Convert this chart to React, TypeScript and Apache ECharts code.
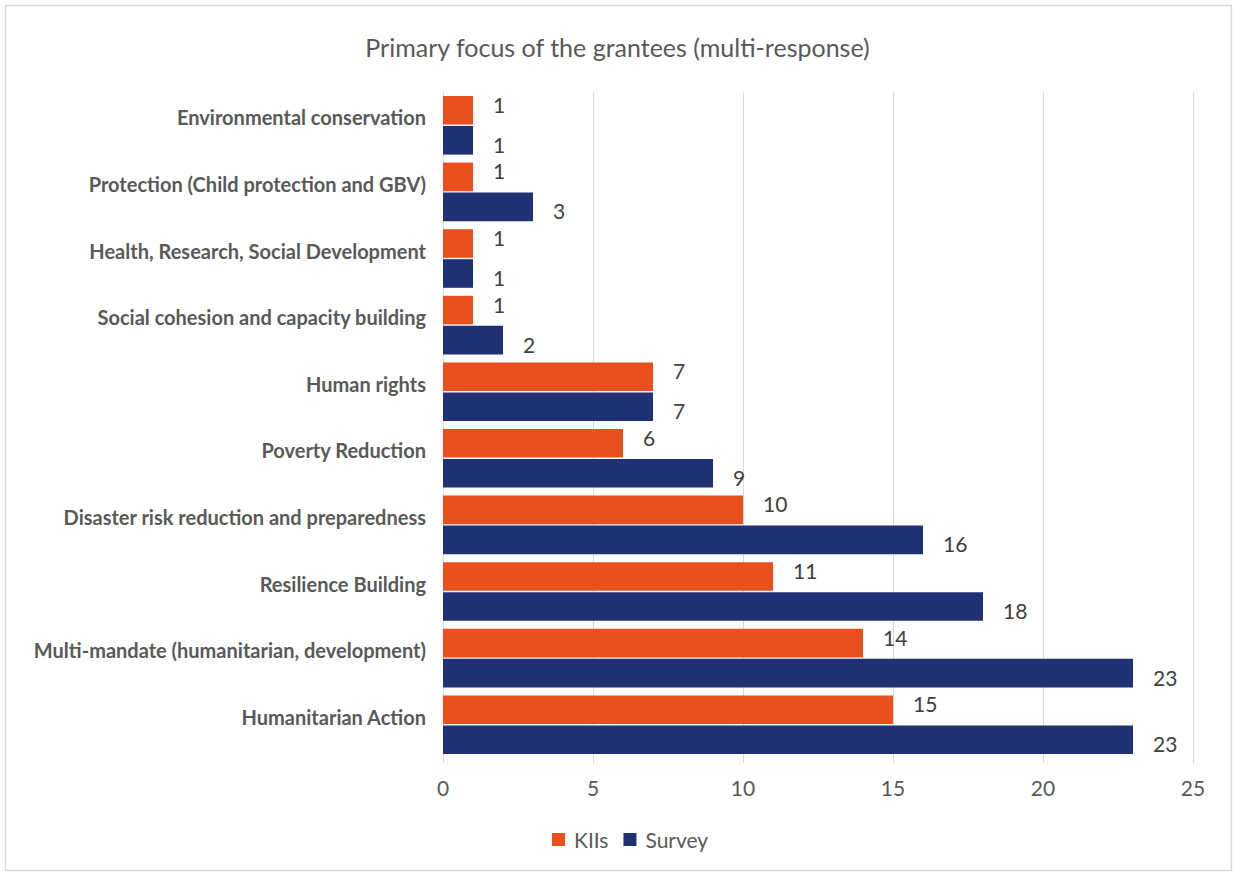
import React, { useEffect, useRef } from "react";
import * as echarts from "echarts";

const categories = [
  "Environmental conservation",
  "Protection (Child protection and GBV)",
  "Health, Research, Social Development",
  "Social cohesion and capacity building",
  "Human rights",
  "Poverty Reduction",
  "Disaster risk reduction and preparedness",
  "Resilience Building",
  "Multi-mandate (humanitarian, development)",
  "Humanitarian Action",
];
const kiis = [1, 1, 1, 1, 7, 6, 10, 11, 14, 15];
const survey = [1, 3, 1, 2, 7, 9, 16, 18, 23, 23];
const xTicks = { min: 0, max: 25, interval: 5 };

const FONT = "Lato, 'Open Sans', sans-serif";

export default function App() {
  const ref = useRef<HTMLDivElement>(null);
  useEffect(() => {
    if (!ref.current) return;
    const chart = echarts.init(ref.current, null, { renderer: "svg" });
    chart.setOption({
      animation: false,
      backgroundColor: "#ffffff",
      textStyle: { fontFamily: FONT },
      title: {
        text: "Primary focus of the grantees (multi-response)",
        left: "center",
        top: 29,
        textStyle: { fontFamily: FONT, fontSize: 25, fontWeight: "normal", color: "#595959" },
      },
      legend: {
        bottom: 19,
        left: 547,
        itemWidth: 13,
        itemHeight: 13,
        itemGap: 15,
        icon: "rect",
        textStyle: { fontFamily: FONT, fontSize: 21, color: "#595959", padding: [0, 0, 0, 4] },
        data: ["KIIs", "Survey"],
      },
      grid: { left: 443, right: 42, top: 92, height: 666, containLabel: false },
      xAxis: {
        type: "value",
        min: xTicks.min,
        max: xTicks.max,
        interval: xTicks.interval,
        axisLine: { show: false },
        axisTick: { show: true, length: 5, lineStyle: { color: "#d9d9d9" } },
        splitLine: { show: true, lineStyle: { color: "#d9d9d9", width: 1 } },
        axisLabel: { fontFamily: FONT, fontSize: 21, color: "#595959", margin: 19 },
      },
      yAxis: {
        type: "category",
        inverse: true,
        data: categories,
        axisLine: { show: false },
        axisTick: { show: false },
        axisLabel: {
          fontFamily: FONT,
          fontSize: 20,
          fontWeight: "bold",
          color: "#595959",
          margin: 17,
          verticalAlign: "bottom",
          lineHeight: 16,
        },
      },
      series: [
        {
          name: "KIIs",
          type: "bar",
          data: kiis,
          barCategoryGap: "12%",
          barGap: "5%",
          itemStyle: { color: "#E9501E" },
          label: {
            show: true,
            position: "right",
            distance: 20,
            offset: [0, -6],
            fontFamily: FONT,
            fontSize: 21,
            color: "#404040",
          },
        },
        {
          name: "Survey",
          type: "bar",
          data: survey,
          barCategoryGap: "12%",
          barGap: "5%",
          itemStyle: { color: "#1F3075" },
          label: {
            show: true,
            position: "right",
            distance: 20,
            offset: [0, 4],
            fontFamily: FONT,
            fontSize: 21,
            color: "#404040",
          },
        },
      ],
      graphic: [
        {
          type: "rect",
          shape: { x: 5.5, y: 5.5, width: 1226, height: 865 },
          style: { fill: "none", stroke: "#d9d9d9", lineWidth: 1.5 },
          silent: true,
        },
      ],
    });
    return () => chart.dispose();
  }, []);
  return (
    <div
      ref={ref}
      style={{ position: "absolute", left: 0, top: 0, width: 1235, height: 874 }}
    />
  );
}
